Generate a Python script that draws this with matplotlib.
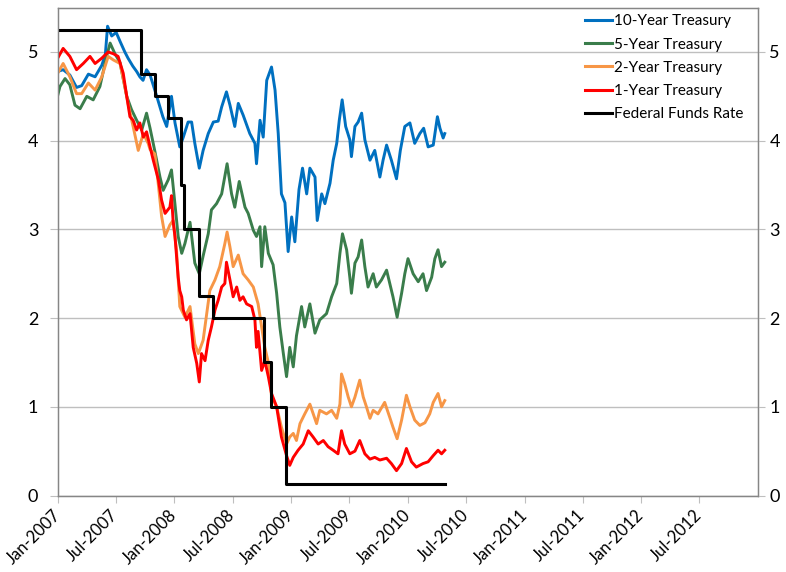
"""Treasury yields vs Federal Funds Rate, 2007-2010."""
import pandas as pd
import matplotlib.pyplot as plt
import matplotlib.dates as mdates

plt.rcParams['font.family'] = ['Lato', 'DejaVu Sans']

# ---- data ----
t10_dates = ['2007-01-01', '2007-01-18', '2007-02-08', '2007-03-01', '2007-03-17', '2007-04-07',
             '2007-04-28', '2007-05-19', '2007-05-30', '2007-06-06', '2007-06-19', '2007-07-03',
             '2007-07-15', '2007-07-30', '2007-08-09', '2007-08-24', '2007-09-05', '2007-09-15',
             '2007-09-25', '2007-10-06', '2007-10-17', '2007-11-07', '2007-11-26', '2007-12-08',
             '2007-12-23', '2008-01-03', '2008-01-18', '2008-01-29', '2008-02-13', '2008-02-24',
             '2008-03-05', '2008-03-19', '2008-03-31', '2008-04-16', '2008-05-02', '2008-05-17',
             '2008-05-28', '2008-06-12', '2008-06-23', '2008-07-08', '2008-07-19', '2008-08-03',
             '2008-08-24', '2008-09-09', '2008-09-14', '2008-09-25', '2008-10-05', '2008-10-16',
             '2008-10-31', '2008-11-11', '2008-11-21', '2008-12-01', '2008-12-12', '2008-12-22',
             '2009-01-02', '2009-01-12', '2009-01-25', '2009-02-05', '2009-02-18', '2009-02-28',
             '2009-03-16', '2009-03-23', '2009-04-06', '2009-04-16', '2009-05-02', '2009-05-12',
             '2009-05-23', '2009-05-31', '2009-06-09', '2009-06-20', '2009-07-03', '2009-07-08',
             '2009-07-19', '2009-07-29', '2009-08-09', '2009-08-19', '2009-09-04', '2009-09-19',
             '2009-10-05', '2009-10-15', '2009-10-26', '2009-11-10', '2009-11-26', '2009-12-08',
             '2009-12-22', '2010-01-07', '2010-01-22', '2010-02-07', '2010-02-19', '2010-03-05',
             '2010-03-21', '2010-04-03', '2010-04-11', '2010-04-21', '2010-04-26']
t10_vals = [4.78, 4.80, 4.74, 4.60, 4.62, 4.75,
            4.72, 4.85, 4.97, 5.29, 5.18, 5.22,
            5.12, 5.00, 4.93, 4.84, 4.78, 4.72,
            4.68, 4.80, 4.74, 4.50, 4.27, 4.16,
            4.50, 4.20, 3.93, 4.04, 4.21, 4.21,
            3.97, 3.69, 3.89, 4.08, 4.21, 4.22,
            4.38, 4.55, 4.40, 4.16, 4.42, 4.29,
            4.08, 3.97, 3.74, 4.23, 4.04, 4.68,
            4.83, 4.57, 4.08, 3.40, 3.30, 2.75,
            3.14, 2.86, 3.45, 3.69, 3.40, 3.69,
            3.59, 3.10, 3.40, 3.29, 3.52, 3.78,
            3.97, 4.23, 4.46, 4.16, 4.01, 3.82,
            4.16, 4.21, 4.31, 4.01, 3.78, 3.89,
            3.59, 3.78, 3.95, 3.78, 3.57, 3.89,
            4.16, 4.20, 3.97, 4.08, 4.14, 3.93,
            3.95, 4.27, 4.14, 4.03, 4.08]

t5_dates = ['2007-01-01', '2007-01-08', '2007-01-24', '2007-02-08', '2007-02-24', '2007-03-12',
            '2007-04-02', '2007-04-22', '2007-05-13', '2007-06-03', '2007-06-14', '2007-06-29',
            '2007-07-15', '2007-08-05', '2007-08-20', '2007-09-05', '2007-09-21', '2007-10-06',
            '2007-10-17', '2007-11-01', '2007-11-17', '2007-11-27', '2007-12-13', '2007-12-23',
            '2008-01-03', '2008-01-13', '2008-01-24', '2008-02-03', '2008-02-19', '2008-03-05',
            '2008-03-19', '2008-03-31', '2008-04-16', '2008-04-26', '2008-05-12', '2008-05-28',
            '2008-06-14', '2008-06-28', '2008-07-08', '2008-07-22', '2008-08-09', '2008-08-19',
            '2008-09-04', '2008-09-14', '2008-09-25', '2008-09-30', '2008-10-10', '2008-10-21',
            '2008-11-05', '2008-11-16', '2008-11-26', '2008-12-07', '2008-12-17', '2008-12-27',
            '2009-01-07', '2009-01-17', '2009-02-02', '2009-02-12', '2009-02-28', '2009-03-16',
            '2009-03-31', '2009-04-21', '2009-05-07', '2009-05-23', '2009-06-02', '2009-06-10',
            '2009-06-23', '2009-07-03', '2009-07-08', '2009-07-19', '2009-07-29', '2009-08-09',
            '2009-08-19', '2009-08-29', '2009-09-14', '2009-09-24', '2009-10-10', '2009-10-26',
            '2009-11-05', '2009-11-15', '2009-11-28', '2009-12-12', '2009-12-22', '2010-01-01',
            '2010-01-17', '2010-02-02', '2010-02-17', '2010-02-28', '2010-03-16', '2010-03-26',
            '2010-04-05', '2010-04-16', '2010-04-26']
t5_vals = [4.51, 4.61, 4.70, 4.63, 4.40, 4.36,
           4.50, 4.46, 4.61, 4.95, 5.10, 4.98,
           4.88, 4.50, 4.35, 4.23, 4.12, 4.31,
           4.14, 3.88, 3.59, 3.44, 3.56, 3.67,
           3.28, 2.92, 2.73, 2.84, 3.08, 2.62,
           2.50, 2.70, 2.95, 3.22, 3.29, 3.40,
           3.74, 3.40, 3.25, 3.54, 3.25, 3.18,
           2.99, 2.92, 3.03, 2.58, 3.03, 2.73,
           2.60, 2.28, 1.90, 1.60, 1.34, 1.67,
           1.45, 1.80, 2.13, 1.90, 2.16, 1.83,
           1.98, 2.05, 2.24, 2.39, 2.73, 2.95,
           2.77, 2.46, 2.28, 2.62, 2.69, 2.88,
           2.58, 2.35, 2.50, 2.35, 2.43, 2.54,
           2.39, 2.24, 2.01, 2.28, 2.50, 2.67,
           2.50, 2.41, 2.50, 2.31, 2.46, 2.67,
           2.77, 2.58, 2.63]

t2_dates = ['2007-01-01', '2007-01-18', '2007-02-08', '2007-03-01', '2007-03-17', '2007-04-07',
            '2007-04-28', '2007-05-19', '2007-06-08', '2007-06-24', '2007-07-15', '2007-07-30',
            '2007-08-09', '2007-08-25', '2007-09-10', '2007-09-26', '2007-10-11', '2007-10-17',
            '2007-11-01', '2007-11-12', '2007-11-22', '2007-12-03', '2007-12-18', '2007-12-28',
            '2008-01-08', '2008-01-18', '2008-02-03', '2008-02-19', '2008-03-05', '2008-03-16',
            '2008-03-31', '2008-04-21', '2008-05-07', '2008-05-22', '2008-06-07', '2008-06-14',
            '2008-06-23', '2008-07-03', '2008-07-19', '2008-08-03', '2008-08-19', '2008-09-04',
            '2008-09-19', '2008-09-30', '2008-10-10', '2008-10-21', '2008-10-31', '2008-11-16',
            '2008-12-01', '2008-12-17', '2008-12-27', '2009-01-07', '2009-01-17', '2009-01-28',
            '2009-02-12', '2009-02-28', '2009-03-21', '2009-03-31', '2009-04-21', '2009-05-07',
            '2009-05-23', '2009-06-02', '2009-06-07', '2009-06-17', '2009-06-28', '2009-07-08',
            '2009-07-19', '2009-08-03', '2009-08-14', '2009-08-24', '2009-09-04', '2009-09-14',
            '2009-09-29', '2009-10-20', '2009-11-05', '2009-11-15', '2009-11-28', '2009-12-12',
            '2009-12-27', '2010-01-07', '2010-01-22', '2010-02-07', '2010-02-23', '2010-03-10',
            '2010-03-21', '2010-04-05', '2010-04-16', '2010-04-26']
t2_vals = [4.76, 4.87, 4.72, 4.53, 4.53, 4.65,
           4.57, 4.72, 4.95, 4.91, 4.87, 4.61,
           4.42, 4.16, 3.89, 4.08, 3.97, 3.90,
           3.85, 3.50, 3.15, 2.92, 3.05, 3.10,
           2.75, 2.13, 2.01, 2.13, 1.71, 1.60,
           1.75, 2.31, 2.43, 2.58, 2.84, 2.97,
           2.80, 2.58, 2.71, 2.50, 2.43, 2.35,
           2.16, 1.90, 1.67, 1.50, 1.12, 1.00,
           0.77, 0.58, 0.66, 0.70, 0.62, 0.81,
           0.92, 1.03, 0.81, 0.96, 0.92, 0.96,
           0.87, 1.03, 1.37, 1.26, 1.11, 1.00,
           1.11, 1.30, 1.11, 1.00, 0.87, 0.96,
           0.92, 1.05, 0.88, 0.77, 0.64, 0.85,
           1.13, 1.00, 0.85, 0.79, 0.82, 0.92,
           1.05, 1.15, 1.00, 1.07]

t1_dates = ['2007-01-01', '2007-01-18', '2007-02-08', '2007-03-01', '2007-03-22', '2007-04-12',
            '2007-04-28', '2007-05-19', '2007-06-08', '2007-06-24', '2007-07-09', '2007-07-25',
            '2007-08-05', '2007-08-15', '2007-08-25', '2007-09-05', '2007-09-15', '2007-09-26',
            '2007-10-06', '2007-10-17', '2007-10-27', '2007-11-12', '2007-11-22', '2007-12-03',
            '2007-12-18', '2007-12-23', '2007-12-28', '2008-01-03', '2008-01-08', '2008-01-13',
            '2008-01-18', '2008-01-24', '2008-01-29', '2008-02-08', '2008-02-19', '2008-02-29',
            '2008-03-11', '2008-03-19', '2008-03-26', '2008-04-06', '2008-04-16', '2008-04-26',
            '2008-05-07', '2008-05-17', '2008-05-28', '2008-06-07', '2008-06-12', '2008-06-23',
            '2008-07-03', '2008-07-14', '2008-07-24', '2008-08-03', '2008-08-14', '2008-08-30',
            '2008-09-09', '2008-09-14', '2008-09-19', '2008-09-30', '2008-10-10', '2008-10-21',
            '2008-10-31', '2008-11-16', '2008-12-01', '2008-12-17', '2008-12-27', '2009-01-07',
            '2009-01-22', '2009-02-07', '2009-02-23', '2009-03-10', '2009-03-26', '2009-04-11',
            '2009-04-26', '2009-05-12', '2009-05-27', '2009-06-07', '2009-06-17', '2009-07-03',
            '2009-07-19', '2009-08-03', '2009-08-19', '2009-09-04', '2009-09-19', '2009-10-05',
            '2009-10-26', '2009-11-10', '2009-11-26', '2009-12-12', '2009-12-27', '2010-01-12',
            '2010-01-27', '2010-02-17', '2010-03-05', '2010-03-21', '2010-04-05', '2010-04-16',
            '2010-04-26']
t1_vals = [4.93, 5.04, 4.95, 4.80, 4.87, 4.95,
           4.87, 4.93, 5.00, 4.98, 4.95, 4.76,
           4.50, 4.27, 4.23, 4.12, 4.20, 4.04,
           4.10, 3.93, 3.78, 3.56, 3.33, 3.18,
           3.25, 3.38, 3.10, 2.92, 2.69, 2.46,
           2.31, 2.24, 2.09, 1.98, 2.05, 1.67,
           1.49, 1.28, 1.60, 1.52, 1.75, 1.90,
           2.09, 2.20, 2.35, 2.39, 2.63, 2.43,
           2.24, 2.35, 2.20, 2.24, 2.16, 2.13,
           1.98, 1.67, 1.85, 1.41, 1.52, 1.34,
           1.15, 1.00, 0.66, 0.45, 0.34, 0.43,
           0.51, 0.58, 0.73, 0.66, 0.58, 0.62,
           0.55, 0.51, 0.47, 0.73, 0.58, 0.47,
           0.50, 0.62, 0.47, 0.41, 0.43, 0.40,
           0.42, 0.36, 0.28, 0.36, 0.53, 0.38,
           0.32, 0.36, 0.38, 0.45, 0.51, 0.47,
           0.51]

ffr_dates = ['2007-01-01', '2007-09-18', '2007-10-31', '2007-12-11', '2008-01-22', '2008-01-30',
             '2008-03-18', '2008-04-30', '2008-10-08', '2008-10-29', '2008-12-16', '2010-04-27']
ffr_vals = [5.25, 4.75, 4.50, 4.25, 3.50, 3.00,
            2.25, 2.00, 1.50, 1.00, 0.125, 0.125]

tick_dates = ['2007-01-01', '2007-07-01', '2008-01-01', '2008-07-01', '2009-01-01', '2009-07-01',
              '2010-01-01', '2010-07-01', '2011-01-01', '2011-07-01', '2012-01-01', '2012-07-01']

SERIES = [
    ('10-Year Treasury', t10_dates, t10_vals, '#0070C0'),
    ('5-Year Treasury', t5_dates, t5_vals, '#3A7D4B'),
    ('2-Year Treasury', t2_dates, t2_vals, '#F79646'),
    ('1-Year Treasury', t1_dates, t1_vals, '#FF0000'),
]

GRID = '#BFBFBF'
SPINE = '#868686'

fig = plt.figure(figsize=(7.86, 5.72), dpi=100)
ax = fig.add_axes([57.7 / 786, 1 - 495.5 / 572, (758.3 - 57.7) / 786, (495.5 - 7.6) / 572])

for label, d, v, color in SERIES:
    ax.plot(pd.to_datetime(d), v, color=color, linewidth=2.1, label=label, zorder=3,
            solid_joinstyle='round')
ax.plot(pd.to_datetime(ffr_dates), ffr_vals, color='black', linewidth=2.2,
        drawstyle='steps-post', label='Federal Funds Rate', zorder=4)

ax.set_xlim(pd.Timestamp('2007-01-01'), pd.Timestamp('2013-01-01'))
ax.set_ylim(0, 5.5)
ax.set_yticks(range(0, 6))
ax.yaxis.grid(True, color=GRID, linewidth=1.0, zorder=0)
ax.set_axisbelow(True)

ax.set_xticks(pd.to_datetime(tick_dates))
ax.xaxis.set_major_formatter(mdates.DateFormatter('%b-%Y'))
for lbl in ax.get_xticklabels():
    lbl.set_rotation(45)
    lbl.set_ha('right')
    lbl.set_va('center')
    lbl.set_rotation_mode('anchor')
ax.tick_params(axis='x', length=5, color=GRID, labelsize=12, pad=7)
ax.tick_params(axis='y', length=6, color=GRID, labelsize=13, pad=8)

for sp in ax.spines.values():
    sp.set_color(SPINE)
    sp.set_linewidth(1.0)

ax2 = ax.twinx()
ax2.set_ylim(0, 5.5)
ax2.set_yticks(range(0, 6))
ax2.tick_params(axis='y', length=5, color=GRID, labelsize=13, pad=3)
for sp in ax2.spines.values():
    sp.set_color(SPINE)

leg = ax.legend(loc='upper left', bbox_to_anchor=(585 / 786, 1 - 14.5 / 572),
                bbox_transform=fig.transFigure, frameon=False, fontsize=11,
                handlelength=1.75, handletextpad=0.15, borderpad=0, borderaxespad=0,
                labelspacing=0.6)
for line in leg.get_lines():
    line.set_linewidth(2.2)

fig.savefig('out.png', dpi=100, facecolor='white')
